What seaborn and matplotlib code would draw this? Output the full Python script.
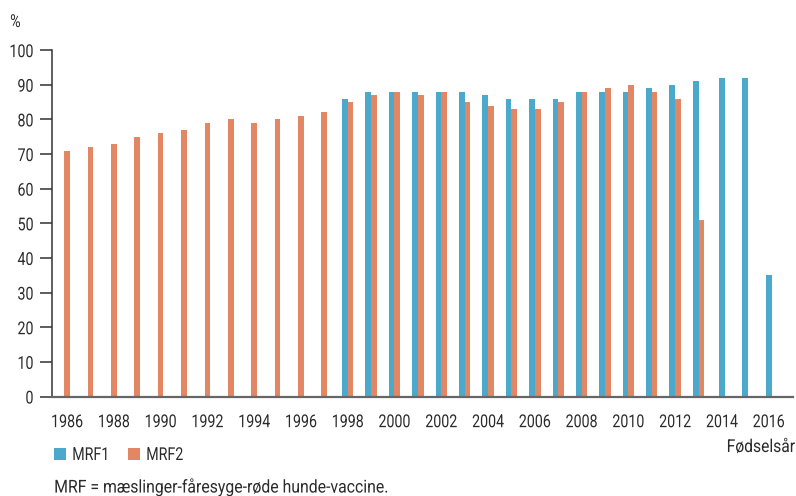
import numpy as np
import pandas as pd
import matplotlib
matplotlib.use("Agg")
import matplotlib.pyplot as plt
from matplotlib.patches import Patch
from matplotlib.patheffects import AbstractPathEffect
from matplotlib.transforms import Affine2D
import seaborn as sns

# Vaccination coverage (%) by birth year
years = list(range(1986, 2017))
mrf1 = [None] * 12 + [86, 88, 88, 88, 88, 88, 87, 86, 86, 86, 88, 88, 88,
                      89, 90, 91, 92, 92, 35]
mrf2 = [71, 72, 73, 75, 76, 77, 79, 80, 79, 80, 81, 82,
        85, 87, 88, 87, 88, 85, 84, 83, 83, 85, 88, 89, 90, 88, 86, 51,
        None, None, None]
series_names = ["MRF1", "MRF2"]
tick_years = list(range(1986, 2017, 2))
y_ticks = list(range(0, 101, 10))

BLUE = "#4BAACB"
ORANGE = "#E38664"
TEXT = "#2b2b2b"

sns.set_theme(style="white")
plt.rcParams["font.family"] = ["Roboto", "DejaVu Sans"]
FS = 12.8
SX = 0.8


class Condense(AbstractPathEffect):
    """Narrow the glyphs horizontally around a chosen anchor (0=left, 0.5=centre, 1=right)."""

    def __init__(self, sx=SX, anchor=0.0):
        super().__init__()
        self.sx = sx
        self.anchor = anchor

    def draw_path(self, renderer, gc, tpath, affine, rgbFace=None):
        ext = tpath.get_extents()
        x0 = ext.x0 + self.anchor * ext.width
        t = Affine2D().translate(-x0, 0).scale(self.sx, 1).translate(x0, 0) + affine
        renderer.draw_path(gc, tpath, t, rgbFace)


# One row per bar; paired bars sit side by side, single bars are centred on the year
half = 0.122
rows = []
for yr, a, b in zip(years, mrf1, mrf2):
    both = a is not None and b is not None
    if a is not None:
        rows.append({"pos": yr - half if both else yr, "value": a, "series": "MRF1"})
    if b is not None:
        rows.append({"pos": yr + half if both else yr, "value": b, "series": "MRF2"})
df = pd.DataFrame(rows)

fig = plt.figure(figsize=(7.96, 4.96), dpi=100)
ax = fig.add_axes([0.0657, 0.2006, 0.996 - 0.0657, 0.899 - 0.2006])

sns.barplot(data=df, x="pos", y="value", hue="series", hue_order=series_names,
            palette=[BLUE, ORANGE], native_scale=True, dodge=False, width=1.0,
            errorbar=None, saturation=1, linewidth=0, legend=False, ax=ax)

ax.set_xlim(1985.37, 2017.03)
ax.set_ylim(0, 100)
ax.set_xticks(tick_years)
ax.set_xticklabels([str(t) for t in tick_years], fontsize=FS, color=TEXT)
ax.set_yticks(y_ticks)
ax.set_yticklabels([str(t) for t in y_ticks], fontsize=FS, color=TEXT)
ax.set_xlabel("")
ax.set_ylabel("")
ax.tick_params(axis="x", length=0, pad=12)
ax.tick_params(axis="y", length=8.4, width=1.1, color="#333333", pad=5, left=True)
for lbl in ax.get_xticklabels():
    lbl.set_path_effects([Condense(anchor=0.5)])
for lbl in ax.get_yticklabels():
    lbl.set_path_effects([Condense(anchor=1.0)])

for side in ["top", "right"]:
    ax.spines[side].set_visible(False)
ax.spines["left"].set_color("#333333")
ax.spines["left"].set_linewidth(1.1)
ax.spines["bottom"].set_color("#666666")
ax.spines["bottom"].set_linewidth(1.6)
ax.grid(False)

fig.text(10 / 796, 1 - 22 / 496, "%", fontsize=FS, color=TEXT, va="center", ha="left",
         path_effects=[Condense(anchor=0.0)])
fig.text(795 / 796, 1 - 447 / 496, "Fødselsår", fontsize=FS, color=TEXT,
         va="center", ha="right", path_effects=[Condense(sx=0.88, anchor=1.0)])
fig.text(54 / 796, 1 - 487 / 496, "MRF = mæslinger-fåresyge-røde hunde-vaccine.",
         fontsize=FS, color=TEXT, va="center", ha="left",
         path_effects=[Condense(sx=0.89, anchor=0.0)])

# Legend: one entry per series, placed side by side under the axis
for name, color, x_px in zip(series_names, [BLUE, ORANGE], [54, 128]):
    leg = fig.legend(handles=[Patch(facecolor=color, edgecolor="none", label=name)],
                     loc="center left", bbox_to_anchor=(x_px / 796, 1 - 455 / 496),
                     frameon=False, fontsize=FS, labelcolor=TEXT,
                     handlelength=0.66, handleheight=0.66, handletextpad=0.35,
                     borderpad=0, borderaxespad=0)
    for t in leg.get_texts():
        t.set_path_effects([Condense(anchor=0.0)])

fig.savefig("out.png", dpi=100)
